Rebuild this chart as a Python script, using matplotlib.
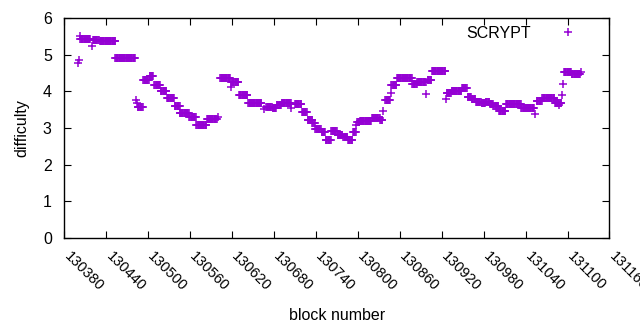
import matplotlib
matplotlib.use("Agg")
import matplotlib.pyplot as plt
import matplotlib.transforms as mtransforms
import numpy as np

# runs of consecutive blocks sharing one difficulty (start block, end block, value)
run_start = [130400, 130401, 130402, 130403, 130419, 130421, 130431, 130453, 130483, 130484,
             130485, 130493, 130502, 130509, 130518, 130527, 130538, 130545, 130559, 130569,
             130584, 130600, 130603, 130618, 130619, 130630, 130643, 130666, 130669, 130678,
             130684, 130691, 130705, 130710, 130720, 130728, 130735, 130739, 130748, 130754,
             130762, 130771, 130779, 130786, 130793, 130798, 130799, 130803, 130820, 130832,
             130836, 130839, 130847, 130848, 130856, 130878, 130885, 130898, 130900, 130906,
             130926, 130927, 130934, 130949, 130957, 130963, 130969, 130977, 130983, 130989,
             130994, 131002, 131012, 131034, 131053, 131056, 131064, 131082, 131088, 131092,
             131094, 131095, 131106, 131119]
run_end = [130400, 130401, 130402, 130417, 130419, 130429, 130453, 130481, 130483, 130484,
           130492, 130501, 130507, 130517, 130526, 130537, 130545, 130558, 130568, 130583,
           130598, 130600, 130617, 130618, 130629, 130642, 130662, 130666, 130677, 130683,
           130690, 130704, 130705, 130719, 130727, 130735, 130738, 130747, 130753, 130761,
           130770, 130778, 130785, 130792, 130797, 130798, 130802, 130819, 130831, 130835,
           130836, 130846, 130847, 130855, 130877, 130884, 130897, 130898, 130905, 130925,
           130926, 130933, 130948, 130956, 130962, 130968, 130976, 130982, 130988, 130993,
           131001, 131011, 131033, 131052, 131053, 131063, 131081, 131091, 131088, 131092,
           131094, 131105, 131118, 131119]
run_value = [4.76, 4.85, 5.51, 5.42, 5.24, 5.40, 5.37, 4.90, 3.76, 3.67,
             3.56, 4.32, 4.43, 4.18, 4.00, 3.81, 3.59, 3.41, 3.29, 3.07,
             3.24, 3.29, 4.36, 4.13, 4.25, 3.89, 3.67, 3.51, 3.58, 3.55,
             3.62, 3.67, 3.54, 3.65, 3.43, 3.21, 3.13, 2.96, 2.88, 2.68,
             2.93, 2.81, 2.75, 2.66, 2.90, 3.08, 3.15, 3.20, 3.26, 3.21,
             3.45, 3.75, 3.95, 4.18, 4.36, 4.20, 4.25, 3.93, 4.30, 4.56,
             3.78, 3.96, 4.00, 4.08, 3.85, 3.79, 3.72, 3.68, 3.72, 3.65,
             3.60, 3.47, 3.66, 3.55, 3.38, 3.74, 3.81, 3.69, 3.63, 3.90,
             4.20, 4.54, 4.47, 4.54]

x_ticks = list(range(130380, 131161, 60))
y_ticks = [0, 1, 2, 3, 4, 5, 6]

blocks = []
diffs = []
for s, e, v in zip(run_start, run_end, run_value):
    for b in range(s, e + 1):
        blocks.append(b)
        diffs.append(v)

plt.rcParams['font.family'] = ['Liberation Sans', 'DejaVu Sans']
plt.rcParams['font.size'] = 11.5

fig = plt.figure(figsize=(6.4, 3.3), dpi=100)
ax = fig.add_axes([0.1005, 0.2788, 0.8518, 0.6667])
ax.plot(blocks, diffs, linestyle='none', marker='+', markersize=6,
        markeredgewidth=1.1, color='#9400d3', label='SCRYPT')

ax.set_xlim(130380, 131160)
ax.set_ylim(0, 6)
ax.set_xticks(x_ticks)
ax.set_yticks(y_ticks)
ax.tick_params(direction='in', top=True, right=True, length=5, width=0.8)
ax.tick_params(axis='y', pad=9)
ax.tick_params(axis='x', pad=8, labelsize=10.5)
shift = mtransforms.ScaledTranslation(5 / 72, 0, fig.dpi_scale_trans)
for lab in ax.get_xticklabels():
    lab.set_rotation(-45)
    lab.set_ha('left')
    lab.set_va('top')
    lab.set_rotation_mode('anchor')
    lab.set_transform(lab.get_transform() + shift)
for sp in ax.spines.values():
    sp.set_linewidth(1.0)

ax.set_xlabel('block number', labelpad=10)
ax.set_ylabel('difficulty', labelpad=10)
ax.legend(loc='upper right', frameon=False, markerfirst=False,
          handlelength=2.0, handletextpad=1.3, borderaxespad=0.1,
          bbox_to_anchor=(0.967, 1.0))

fig.savefig('out.png', dpi=100)
